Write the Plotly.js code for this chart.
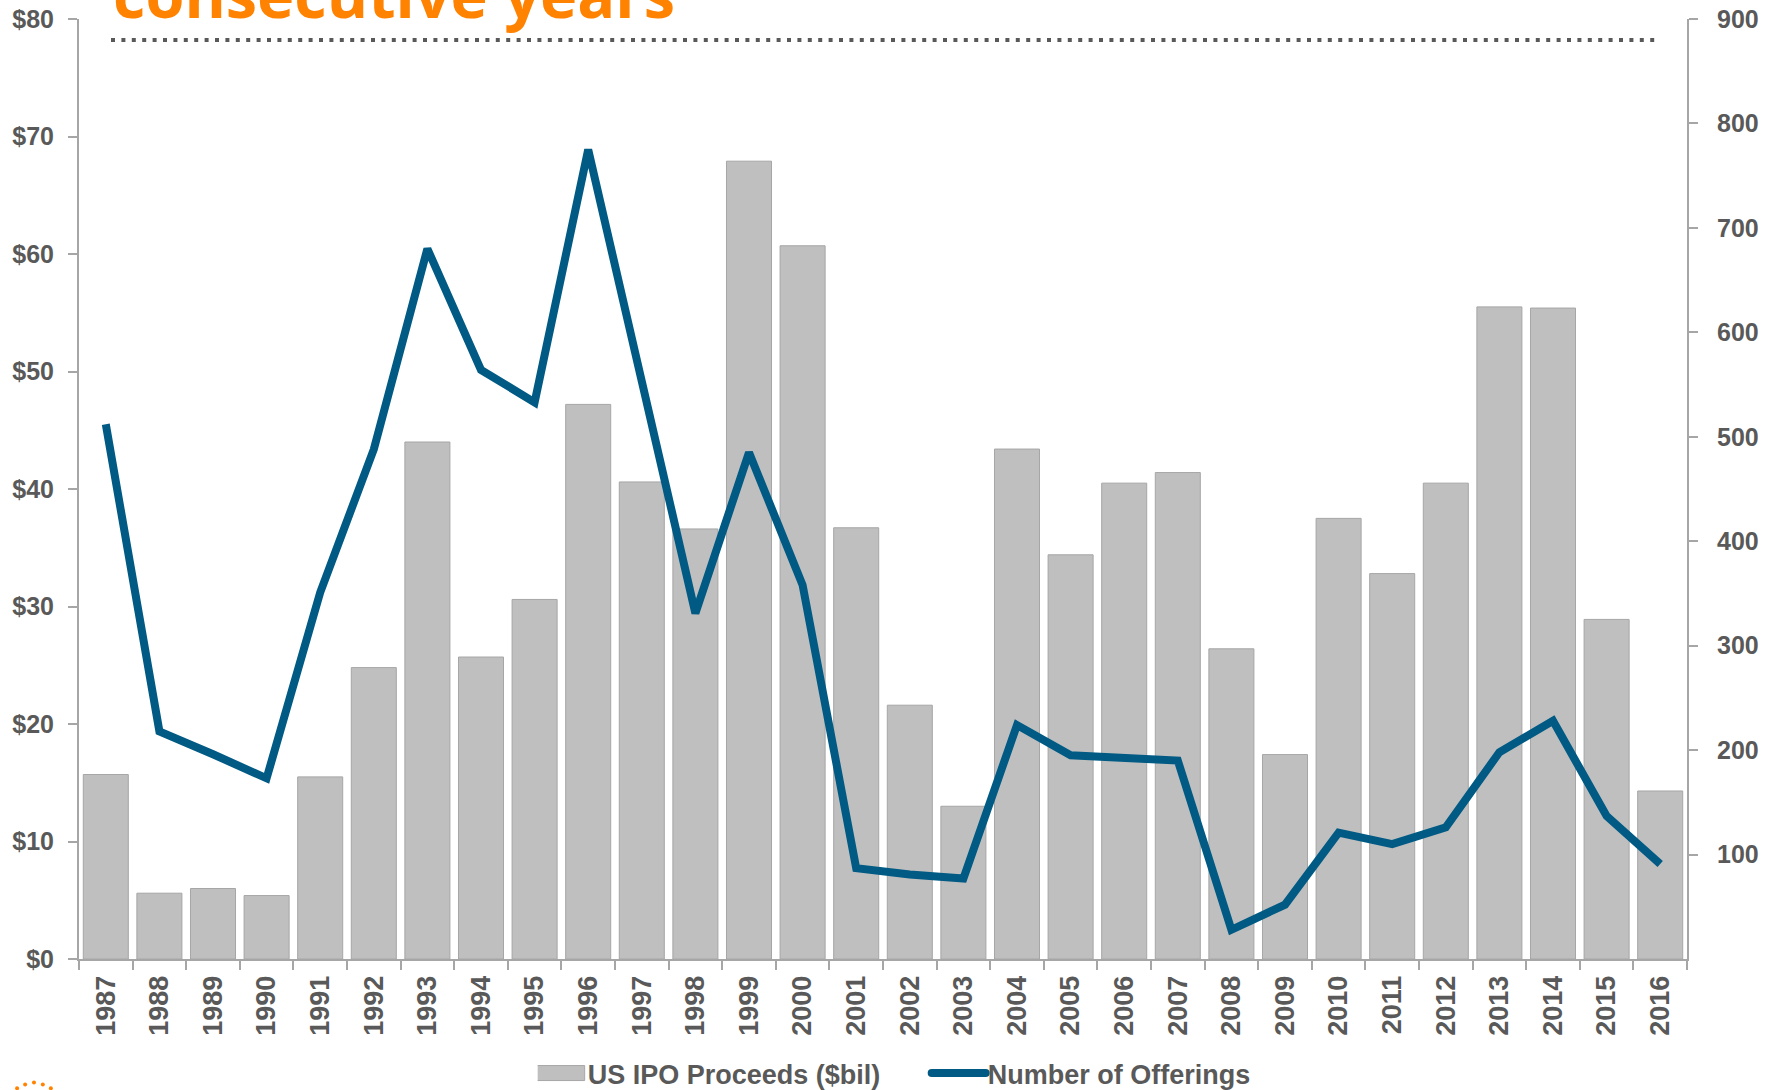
<!DOCTYPE html>
<html>
<head>
<meta charset="utf-8">
<script src="https://cdn.plot.ly/plotly-3.0.1.min.js"></script>
<style>
html, body { margin: 0; padding: 0; background: #fff; }
#chart { width: 1777px; height: 1090px; }
</style>
</head>
<body>
<div id="chart"></div>
<script>
const years = ['1987','1988','1989','1990','1991','1992','1993','1994','1995','1996',
               '1997','1998','1999','2000','2001','2002','2003','2004','2005','2006',
               '2007','2008','2009','2010','2011','2012','2013','2014','2015','2016'];
const proceeds = [15.7, 5.6, 6.0, 5.4, 15.5, 24.8, 44.0, 25.7, 30.6, 47.2,
                  40.6, 36.6, 67.9, 60.7, 36.7, 21.6, 13.0, 43.4, 34.4, 40.5,
                  41.4, 26.4, 17.4, 37.5, 32.8, 40.5, 55.5, 55.4, 28.9, 14.3];
const offerings = [512, 218, 196, 173, 351, 488, 680, 564, 533, 775,
                   553, 331, 485, 358, 87, 81, 77, 224, 195, 192,
                   190, 28, 52, 121, 110, 126, 198, 228, 137, 91];
const leftTicks = [0, 10, 20, 30, 40, 50, 60, 70, 80];
const leftTickText = ['$0', '$10', '$20', '$30', '$40', '$50', '$60', '$70', '$80'];
const rightTicks = [100, 200, 300, 400, 500, 600, 700, 800, 900];
const titleText = 'consecutive years';

const axisGrey = '#A6A6A6';
const labelGrey = '#595959';
const yTickFont = {family: 'Liberation Sans, Arial, sans-serif', size: 25, weight: 700, color: labelGrey};
const xTickFont = {family: 'Liberation Sans, Arial, sans-serif', size: 27, weight: 700, color: labelGrey};

const traces = [
  {
    type: 'bar', name: 'US IPO Proceeds ($bil)', x: years, y: proceeds,
    marker: {color: '#BFBFBF', line: {color: '#A6A6A6', width: 1}},
    yaxis: 'y', hoverinfo: 'x+y'
  },
  {
    type: 'scatter', mode: 'lines', name: 'Number of Offerings', x: years, y: offerings,
    line: {color: '#005A84', width: 8}, yaxis: 'y2', hoverinfo: 'x+y'
  }
];

// decorative logo dots (bottom-left, partially cropped)
const logoDots = [[-0.0385, -0.1375], [-0.0335, -0.1335], [-0.028, -0.1315], [-0.0225, -0.1335], [-0.0175, -0.1375]];
const shapes = [
  {type: 'line', xref: 'paper', yref: 'paper', x0: (111-79)/1608, x1: (1656-79)/1608,
   y0: (959-40)/940, y1: (959-40)/940, line: {color: '#595959', width: 4, dash: '4px,6.4px'}}
].concat(logoDots.map(d => ({
  type: 'circle', xref: 'paper', yref: 'paper', xsizemode: 'pixel', ysizemode: 'pixel',
  xanchor: d[0], yanchor: d[1], x0: -2, x1: 2, y0: -2, y1: 2,
  fillcolor: '#FF8200', line: {width: 0}
})));

const layout = {
  width: 1777, height: 1090,
  margin: {l: 79, r: 90, t: 19, b: 131, pad: 0},
  paper_bgcolor: '#ffffff', plot_bgcolor: '#ffffff',
  showlegend: true,
  title: {
    text: titleText,
    font: {family: 'Open Sans, sans-serif', size: 63, weight: 700, color: '#FF8200'},
    xref: 'container', yref: 'container',
    x: 113/1777, xanchor: 'left',
    y: 1 - 18/1090, yanchor: 'bottom', automargin: false
  },
  bargap: 0.16,
  xaxis: {
    type: 'category', showgrid: false, zeroline: false, automargin: false,
    showline: true, linecolor: axisGrey, linewidth: 2,
    ticks: 'outside', tickson: 'boundaries', ticklen: 9, tickwidth: 2, tickcolor: axisGrey,
    tickangle: -90, tickfont: xTickFont, ticklabelstandoff: 4,
    range: [-0.5, 29.5]
  },
  yaxis: {
    range: [0, 80], tickmode: 'array', tickvals: leftTicks, ticktext: leftTickText,
    showgrid: false, zeroline: false, automargin: false,
    showline: true, linecolor: axisGrey, linewidth: 2,
    ticks: 'outside', ticklen: 9, tickwidth: 2, tickcolor: axisGrey,
    tickfont: yTickFont, ticklabelstandoff: 9
  },
  yaxis2: {
    range: [0, 900], tickmode: 'array', tickvals: rightTicks, overlaying: 'y', side: 'right',
    showgrid: false, zeroline: false, automargin: false,
    showline: true, linecolor: axisGrey, linewidth: 2,
    ticks: 'outside', ticklen: 9, tickwidth: 2, tickcolor: axisGrey,
    tickfont: yTickFont, ticklabelstandoff: 14
  },
  legend: {
    orientation: 'h', xref: 'paper', x: 0.534, xanchor: 'center',
    yref: 'container', y: 1 - 1049/1090, yanchor: 'top',
    font: {family: 'Liberation Sans, Arial, sans-serif', size: 27, weight: 700, color: labelGrey},
    itemwidth: 40, traceorder: 'normal', entrywidth: 345, entrywidthmode: 'pixels'
  },
  shapes: shapes
};

// Widen the legend swatches so they look like the reference's (cosmetic only)
function restyleLegendSwatches() {
  const groups = document.querySelectorAll('#chart .legend .traces');
  groups.forEach(g => {
    const text = g.querySelector('text.legendtext');
    if (!text) return;
    const tLeft = text.getBoundingClientRect().left;
    const linePath = g.querySelector('.legendlines path');
    if (linePath) {
      const m = linePath.getScreenCTM();
      const x1 = (tLeft - 2 - m.e) / m.a;
      const x0 = (tLeft - 2 - 54 - m.e) / m.a;
      linePath.setAttribute('d', 'M' + x0 + ',0H' + x1);
      linePath.style.strokeLinecap = 'round';
      return;
    }
    const bar = g.querySelector('.legendpoints path');
    if (bar) {
      const m = bar.getScreenCTM();
      const x1 = (tLeft - 3 - m.e) / m.a;
      const x0 = (tLeft - 3 - 52 - m.e) / m.a;
      bar.setAttribute('d', 'M' + x0 + ',7.5H' + x1 + 'V-7.5H' + x0 + 'Z');
    }
  });
}

Plotly.newPlot('chart', traces, layout, {displayModeBar: false, staticPlot: true})
  .then(restyleLegendSwatches);
</script>
</body>
</html>
